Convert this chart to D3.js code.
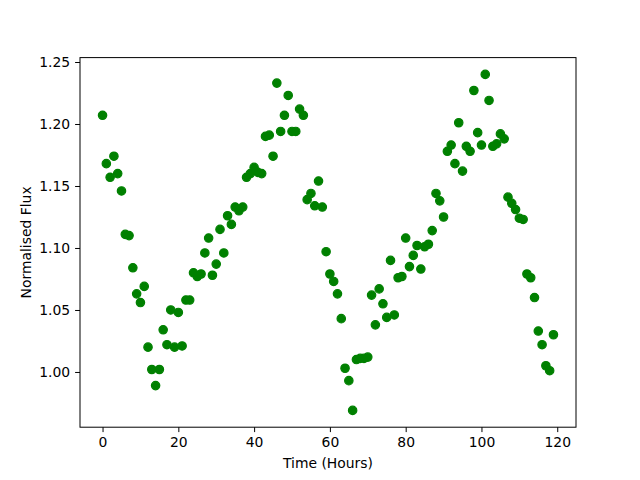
<!DOCTYPE html>
<html>
<head>
<meta charset="utf-8">
<script src="https://cdn.jsdelivr.net/npm/d3@7"></script>
<style>
  body { margin: 0; background: #fff; }
  text { font-family: "DejaVu Sans", sans-serif; }
</style>
</head>
<body>
<div id="chart"></div>
<script>
// one reading per hour, 0..119
var hours = d3.range(120);
var flux = [
  1.207, 1.168, 1.157, 1.174, 1.160, 1.146, 1.111, 1.110, 1.084, 1.063,
  1.056, 1.069, 1.020, 1.002, 0.989, 1.002, 1.034, 1.022, 1.050, 1.020,
  1.048, 1.021, 1.058, 1.058, 1.080, 1.077, 1.079, 1.096, 1.108, 1.078,
  1.087, 1.115, 1.096, 1.126, 1.119, 1.133, 1.130, 1.133, 1.157, 1.160,
  1.165, 1.161, 1.160, 1.190, 1.191, 1.174, 1.233, 1.194, 1.207, 1.223,
  1.194, 1.194, 1.212, 1.207, 1.139, 1.144, 1.134, 1.154, 1.133, 1.097,
  1.079, 1.073, 1.063, 1.043, 1.003, 0.993, 0.969, 1.010, 1.011, 1.011,
  1.012, 1.062, 1.038, 1.067, 1.055, 1.044, 1.090, 1.046, 1.076, 1.077,
  1.108, 1.085, 1.094, 1.102, 1.083, 1.101, 1.103, 1.114, 1.144, 1.138,
  1.125, 1.178, 1.183, 1.168, 1.201, 1.162, 1.182, 1.178, 1.227, 1.193,
  1.183, 1.240, 1.219, 1.182, 1.184, 1.192, 1.188, 1.141, 1.136, 1.131,
  1.124, 1.123, 1.079, 1.076, 1.060, 1.033, 1.022, 1.005, 1.001, 1.030
];
var xTicks = [0, 20, 40, 60, 80, 100, 120];
var yTicks = [1.00, 1.05, 1.10, 1.15, 1.20, 1.25];

var width = 640, height = 480;
var margin = { top: 57.6, right: 64, bottom: 52.8, left: 80 };
var plotW = width - margin.left - margin.right;
var plotH = height - margin.top - margin.bottom;

var svg = d3.select("#chart")
  .append("svg")
  .attr("width", width)
  .attr("height", height);

// matplotlib style 5% padding around the data
var xExt = d3.extent(hours), yExt = d3.extent(flux);
var xPad = (xExt[1] - xExt[0]) * 0.05, yPad = (yExt[1] - yExt[0]) * 0.05;

var x = d3.scaleLinear()
  .domain([xExt[0] - xPad, xExt[1] + xPad])
  .range([0, plotW]);
var y = d3.scaleLinear()
  .domain([yExt[0] - yPad, yExt[1] + yPad])
  .range([plotH, 0]);

var g = svg.append("g")
  .attr("transform", "translate(" + margin.left + "," + margin.top + ")");

// points
g.selectAll("circle")
  .data(flux)
  .enter()
  .append("circle")
  .attr("cx", function(d, i) { return x(hours[i]); })
  .attr("cy", function(d) { return y(d); })
  .attr("r", 4.2)
  .style("fill", "#008000")
  .style("stroke", "#008000")
  .style("stroke-width", "1.2px");

// axes
var xAxis = g.append("g")
  .attr("transform", "translate(0," + plotH + ")")
  .call(d3.axisBottom(x).tickValues(xTicks).tickSizeInner(4.9).tickSizeOuter(0).tickPadding(4.9)
    .tickFormat(d3.format("d")));
var yAxis = g.append("g")
  .call(d3.axisLeft(y).tickValues(yTicks).tickSizeInner(4.9).tickSizeOuter(0).tickPadding(4.9)
    .tickFormat(d3.format(".2f")));

[xAxis, yAxis].forEach(function(a) {
  a.select(".domain").remove();
  a.selectAll(".tick line").style("stroke", "#000").style("stroke-width", "1px");
  a.selectAll(".tick text")
    .style("fill", "#000")
    .style("font-size", "13.9px")
    .style("font-family", "'DejaVu Sans', sans-serif");
});

// frame
g.append("rect")
  .attr("width", plotW)
  .attr("height", plotH)
  .style("fill", "none")
  .style("stroke", "#000")
  .style("stroke-width", "1px");

// labels
svg.append("text")
  .attr("x", margin.left + plotW / 2)
  .attr("y", 468)
  .attr("text-anchor", "middle")
  .style("font-size", "13.9px")
  .text("Time (Hours)");

svg.append("text")
  .attr("transform", "translate(31," + (margin.top + plotH / 2) + ") rotate(-90)")
  .attr("text-anchor", "middle")
  .style("font-size", "13.9px")
  .text("Normalised Flux");
</script>
</body>
</html>
